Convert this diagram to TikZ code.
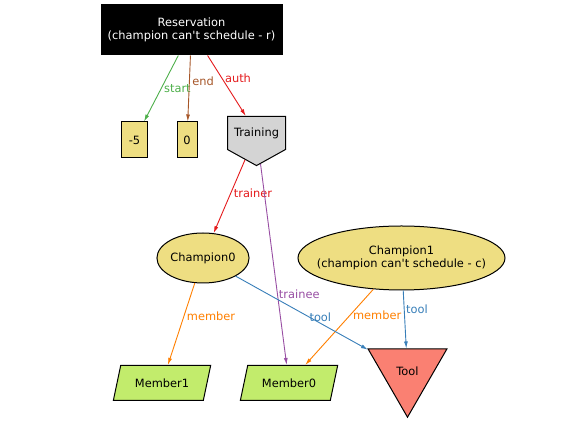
\documentclass[tikz,border=0pt]{standalone}
\usepackage{fontspec}
\newfontfamily\dvsans{DejaVu Sans}
\usetikzlibrary{arrows.meta,shapes.geometric,shapes.symbols}

\definecolor{setgreen}{RGB}{77,175,74}
\definecolor{setbrown}{RGB}{166,86,40}
\definecolor{setred}{RGB}{228,26,28}
\definecolor{setpurple}{RGB}{152,78,163}
\definecolor{setorange}{RGB}{255,127,0}
\definecolor{setblue}{RGB}{55,126,184}
\definecolor{khaki}{RGB}{238,222,130}
\definecolor{limegreen}{RGB}{194,236,108}
\definecolor{salmon}{RGB}{250,128,114}
\definecolor{trngray}{RGB}{212,212,212}

\begin{document}
\begin{tikzpicture}[x=1pt, y=1pt]
        \useasboundingbox (0,0) rectangle (565,422);
        \tikzstyle{every node}=[font={\fontsize{11.4}{13.5}\dvsans}]
        \tikzstyle{box}=[draw=black, line width=1pt, text=black, inner sep=2pt]
        \tikzstyle{lbl}=[anchor=west, inner sep=2.5pt]

        \node[box, fill=black, text=white, align=center, minimum width=181pt, minimum height=50pt] (res) at (191.5,392) {Reservation\\(champion can't schedule - r)};
        \node[box, fill=khaki, minimum width=26pt, minimum height=36pt] (m5)   at (134.5,282) {-5};
        \node[box, fill=khaki, minimum width=20pt, minimum height=36pt] (zero) at (187,282)   {0};
        \node[box, fill=trngray, signal, signal to=south, signal pointer angle=122, inner ysep=11pt, minimum width=58pt] (trn) at (256.5,289) {Training};

        \node[box, fill=khaki, ellipse, inner sep=0pt, minimum width=92pt, minimum height=50pt] (ch0) at (203,164) {Champion0};
        \node[box, fill=khaki, ellipse, align=center, inner xsep=-20pt, inner ysep=0pt, minimum width=207pt, minimum height=64pt] (ch1) at (401.5,164) {Champion1\\(champion can't schedule - c)};

        \node[box, fill=limegreen, trapezium, trapezium left angle=68, trapezium right angle=112, trapezium stretches=true, minimum width=98pt, minimum height=35pt] (mem1) at (162,39) {Member1};
        \node[box, fill=limegreen, trapezium, trapezium left angle=68, trapezium right angle=112, trapezium stretches=true, minimum width=98pt, minimum height=35pt] (mem0) at (289,39) {Member0};
        \node[box, fill=salmon, regular polygon, regular polygon sides=3, shape border rotate=180, inner sep=0pt, minimum size=91pt] (tool) at (407.5,50.3) {Tool};

        \tikzstyle{edge}=[color=setgreen, line width=0.9pt, -{Latex[length=7pt, width=4pt]}]
        \draw[edge] (res) -- node[lbl, pos=0.5] {start} (m5);

        \tikzstyle{edge}=[color=setbrown, line width=0.9pt, -{Latex[length=7pt, width=4pt]}]
        \draw[edge] (res) -- node[lbl, pos=0.39] {end} (zero);

        \tikzstyle{edge}=[color=setred, line width=0.9pt, -{Latex[length=7pt, width=4pt]}]
        \draw[edge] (res) -- node[lbl, pos=0.38] {auth} (trn);
        \draw[edge] (trn) -- node[lbl, pos=0.45] {trainer} (ch0);

        \tikzstyle{edge}=[color=setpurple, line width=0.9pt, -{Latex[length=7pt, width=4pt]}]
        \draw[edge] (trn) -- node[lbl, pos=0.65, inner sep=1pt] {trainee} (mem0);

        \tikzstyle{edge}=[color=setorange, line width=0.9pt, -{Latex[length=7pt, width=4pt]}]
        \draw[edge] (ch0) -- node[lbl, pos=0.4] {member} (mem1);
        \draw[edge] (ch1) -- node[lbl, pos=0.34] {member} (mem0);

        \tikzstyle{edge}=[color=setblue, line width=0.9pt, -{Latex[length=7pt, width=4pt]}]
        \draw[edge] (ch0) -- node[pos=0.64, anchor=south, inner sep=1pt] {tool} (tool);
        \draw[edge] (ch1) -- node[lbl, pos=0.32, inner sep=1.5pt] {tool} (tool);
\end{tikzpicture}
\end{document}
